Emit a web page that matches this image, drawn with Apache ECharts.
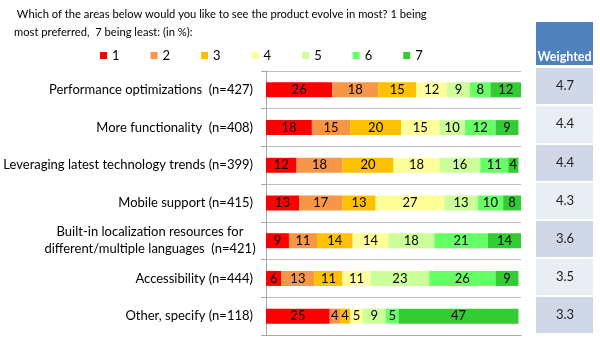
<!DOCTYPE html>
<html>
<head>
<meta charset="utf-8">
<script src="https://cdn.jsdelivr.net/npm/echarts@6/dist/echarts.min.js"></script>
<style>
  html, body { margin: 0; padding: 0; background: #fff; }
  #chart { width: 600px; height: 351px; }
</style>
</head>
<body>
<div id="chart"></div>
<script>
var categories = [
  'Performance optimizations  (n=427)',
  'More functionality  (n=408)',
  'Leveraging latest technology trends (n=399)',
  'Mobile support (n=415)',
  'Built-in localization resources for\ndifferent/multiple languages  (n=421)',
  'Accessibility (n=444)',
  'Other, specify (n=118)'
];
var ranks = ['1', '2', '3', '4', '5', '6', '7'];
var rank1 = [26, 18, 12, 13, 9, 6, 25];
var rank2 = [18, 15, 18, 17, 11, 13, 4];
var rank3 = [15, 20, 20, 13, 14, 11, 4];
var rank4 = [12, 15, 18, 27, 14, 11, 5];
var rank5 = [9, 10, 16, 13, 18, 23, 9];
var rank6 = [8, 12, 11, 10, 21, 26, 5];
var rank7 = [12, 9, 4, 8, 14, 9, 47];
var weighted = ['4.7', '4.4', '4.4', '4.3', '3.6', '3.5', '3.3'];

var rankColors = ['#ff0000', '#f79646', '#ffc000', '#ffff99', '#ccff99', '#66ff66', '#33cc33'];
var FONT = 'Lato';

var chart = echarts.init(document.getElementById('chart'));

var rankData = [rank1, rank2, rank3, rank4, rank5, rank6, rank7];
var series = [];
for (var i = 0; i < ranks.length; i++) {
  series.push({
    name: ranks[i],
    type: 'bar',
    stack: 'total',
    barWidth: 15,
    clip: true,
    itemStyle: { color: rankColors[i] },
    label: {
      show: true,
      position: 'inside',
      color: '#000',
      fontFamily: FONT,
      fontSize: 13
    },
    data: rankData[i]
  });
}

var option = {
  animation: false,
  textStyle: { fontFamily: FONT },
  title: {
    text: ' Which of the areas below would you like to see the product evolve in most? 1 being\nmost preferred,  7 being least: (in %):',
    left: 14,
    top: 5,
    padding: 0,
    textStyle: { fontFamily: FONT, fontSize: 11.2, fontWeight: 'normal', color: '#000', lineHeight: 18 }
  },
  legend: {
    data: ranks,
    left: 95,
    top: 44,
    icon: 'rect',
    itemWidth: 7,
    itemHeight: 7,
    itemGap: 31,
    textStyle: { fontFamily: FONT, fontSize: 13, color: '#000' }
  },
  grid: [
    { left: 266, right: 79, top: 71, bottom: 16 },
    { left: 536, right: 7, top: 67, bottom: 17 }
  ],
  xAxis: [
    {
      gridIndex: 0, type: 'value', min: 0, max: 100,
      axisLabel: { show: false }, axisTick: { show: false },
      splitLine: { show: false },
      axisLine: { show: true, lineStyle: { color: '#a6a6a6' } }
    },
    {
      gridIndex: 1, type: 'value', min: 0, max: 1, show: false
    }
  ],
  yAxis: [
    {
      gridIndex: 0, type: 'category', inverse: true, data: categories,
      axisLine: { show: true, lineStyle: { color: '#a6a6a6' } },
      axisTick: { show: true, length: 5, lineStyle: { color: '#a6a6a6' } },
      splitLine: { show: true, lineStyle: { color: '#bfbfbf' } },
      axisLabel: {
        margin: 13,
        color: '#000',
        fontFamily: FONT,
        fontSize: 13,
        lineHeight: 17,
        formatter: function (v) {
          if (v.indexOf('\n') >= 0) {
            return v.split('\n').map(function (s) { return '{c|' + s + '}'; }).join('\n');
          }
          return v;
        },
        rich: { c: { width: 206, align: 'center', fontFamily: FONT, fontSize: 13, lineHeight: 17, color: '#000' } }
      }
    },
    {
      gridIndex: 1, type: 'category', inverse: true, data: weighted,
      axisLine: { show: false }, axisTick: { show: false },
      splitArea: { show: true, areaStyle: { color: ['#d0d8e8', '#e9edf4'] } },
      splitLine: { show: true, lineStyle: { color: '#fff', width: 2 } },
      axisLabel: {
        inside: true, align: 'center', margin: 29,
        color: '#222', fontFamily: FONT, fontSize: 13
      }
    }
  ],
  graphic: [
    {
      type: 'group', left: 536, top: 22,
      children: [
        { type: 'rect', shape: { x: 0, y: 0, width: 57, height: 43 }, style: { fill: '#4f81bd' } },
        { type: 'text', x: 28.5, y: 41, style: { text: 'Weighted', fill: '#fff', font: 'bold 12.5px Lato', textAlign: 'center', textVerticalAlign: 'bottom' } }
      ]
    }
  ],
  series: series
};

chart.setOption(option);
</script>
</body>
</html>
